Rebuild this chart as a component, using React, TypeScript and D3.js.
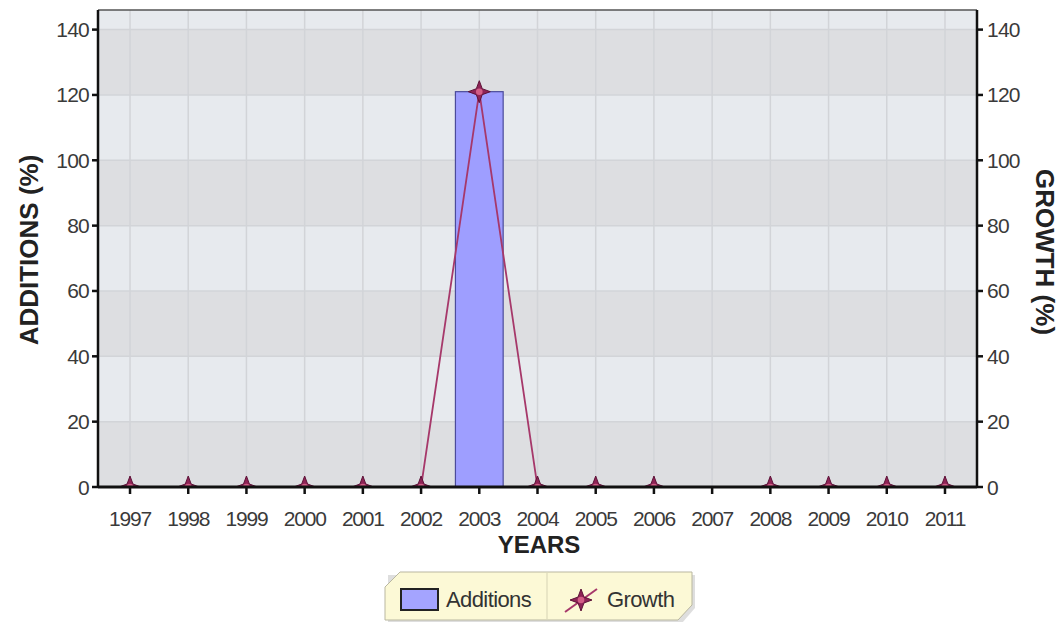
import * as d3 from "d3";

const years = ["1997", "1998", "1999", "2000", "2001", "2002", "2003", "2004", "2005", "2006", "2007", "2008", "2009", "2010", "2011"];
const additions = [0, 0, 0, 0, 0, 0, 121, 0, 0, 0, 0, 0, 0, 0, 0];
const growth: (number | null)[] = [0, 0, 0, 0, 0, 0, 121, 0, 0, 0, null, 0, 0, 0, 0];
const yTicks = [0, 20, 40, 60, 80, 100, 120, 140];

const W = 1060;
const H = 622;
const PLOT = { left: 98, right: 977, top: 10, bottom: 487 };
const FONT = "'Liberation Sans', Arial, sans-serif";

// four pointed star used for the growth points
const starPath = (r: number, ri: number) => {
  const pts: [number, number][] = [];
  for (let i = 0; i < 8; i++) {
    const a = (Math.PI / 4) * i - Math.PI / 2;
    const rr = i % 2 === 0 ? r : ri;
    pts.push([Math.cos(a) * rr, Math.sin(a) * rr]);
  }
  return "M" + pts.map((p) => p.join(",")).join("L") + "Z";
};

const Star = ({ x, y, r = 11 }: { x: number; y: number; r?: number }) => (
  <g transform={`translate(${x},${y})`}>
    <path d={starPath(r, r * 0.38)} fill="#8e2456" stroke="#5e1238" strokeWidth={1} />
    <circle r={r * 0.3} fill="#d35d86" />
  </g>
);

export default function App() {
  const x = d3.scalePoint<string>().domain(years).range([PLOT.left, PLOT.right]).padding(0.55);
  const y = d3.scaleLinear().domain([0, 146]).range([PLOT.bottom, PLOT.top]);
  const step = x.step();
  const barW = step * 0.82;

  // alternating horizontal bands
  const bandEdges = [...yTicks, 146];
  const bands = bandEdges.slice(0, -1).map((v, i) => ({
    y0: v,
    y1: bandEdges[i + 1],
    dark: i % 2 === 0,
  }));

  const line = d3
    .line<number | null>()
    .defined((d) => d != null)
    .x((_, i) => x(years[i]) as number)
    .y((d) => y(d as number));

  return (
    <svg width={W} height={H} style={{ position: "absolute", left: 0, top: 0, background: "#fff" }}>
      <defs>
        <clipPath id="plotClip">
          <rect x={PLOT.left} y={0} width={PLOT.right - PLOT.left} height={PLOT.bottom} />
        </clipPath>
      </defs>
      {/* plot background */}
      {bands.map((b, i) => (
        <rect
          key={i}
          x={PLOT.left}
          width={PLOT.right - PLOT.left}
          y={y(b.y1)}
          height={y(b.y0) - y(b.y1)}
          fill={b.dark ? "#dddee1" : "#e7eaee"}
        />
      ))}
      {/* grid */}
      {yTicks.map((t) => (
        <line key={t} x1={PLOT.left} x2={PLOT.right} y1={y(t)} y2={y(t)} stroke="#d2d4d8" strokeWidth={1.5} />
      ))}
      {years.map((yr) => (
        <line key={yr} x1={x(yr)} x2={x(yr)} y1={PLOT.top} y2={PLOT.bottom} stroke="#d2d4d8" strokeWidth={1.5} />
      ))}
      {/* border */}
      <line x1={PLOT.left} x2={PLOT.right} y1={PLOT.top} y2={PLOT.top} stroke="#555" strokeWidth={1.5} />

      {/* bars */}
      {additions.map((v, i) =>
        v > 0 ? (
          <rect
            key={i}
            x={(x(years[i]) as number) - barW / 2}
            width={barW}
            y={y(v)}
            height={y(0) - y(v)}
            fill="#9e9eff"
            stroke="#4b4b9a"
            strokeWidth={1.2}
          />
        ) : null
      )}

      {/* growth line and points */}
      <g clipPath="url(#plotClip)">
        <path d={line(growth) ?? ""} fill="none" stroke="#a6386a" strokeWidth={1.8} />
        {growth.map((v, i) => (v == null ? null : <Star key={i} x={x(years[i]) as number} y={y(v)} />))}
      </g>

      {/* axes */}
      <line x1={PLOT.left} x2={PLOT.left} y1={PLOT.top} y2={PLOT.bottom + 1} stroke="#111" strokeWidth={2.5} />
      <line x1={PLOT.right} x2={PLOT.right} y1={PLOT.top} y2={PLOT.bottom + 1} stroke="#111" strokeWidth={2.5} />
      <line x1={PLOT.left} x2={PLOT.right} y1={PLOT.bottom} y2={PLOT.bottom} stroke="#111" strokeWidth={3} />

      {yTicks.map((t) => (
        <g key={t} fontFamily={FONT} fontSize={21} fill="#3a3a3a">
          <line x1={PLOT.left - 6} x2={PLOT.left} y1={y(t)} y2={y(t)} stroke="#111" strokeWidth={2.5} />
          <line x1={PLOT.right} x2={PLOT.right + 6} y1={y(t)} y2={y(t)} stroke="#111" strokeWidth={2.5} />
          <text x={PLOT.left - 9} y={y(t)} textAnchor="end" dominantBaseline="central" letterSpacing={-0.8}>
            {t}
          </text>
          <text x={PLOT.right + 10} y={y(t)} textAnchor="start" dominantBaseline="central" letterSpacing={-0.8}>
            {t}
          </text>
        </g>
      ))}
      {years.map((yr) => (
        <g key={yr}>
          <line x1={x(yr)} x2={x(yr)} y1={PLOT.bottom} y2={PLOT.bottom + 7} stroke="#111" strokeWidth={2.5} />
          <text
            x={x(yr)}
            y={PLOT.bottom + 39}
            textAnchor="middle"
            fontFamily={FONT}
            fontSize={21}
            fill="#3a3a3a"
            letterSpacing={-1.2}
          >
            {yr}
          </text>
        </g>
      ))}

      {/* titles */}
      <text
        transform={`translate(38,250) rotate(-90)`}
        textAnchor="middle"
        fontFamily={FONT}
        fontWeight="bold"
        fontSize={26}
        fill="#222"
      >
        ADDITIONS (%)
      </text>
      <text
        transform={`translate(1036,252) rotate(90)`}
        textAnchor="middle"
        fontFamily={FONT}
        fontWeight="bold"
        fontSize={26}
        fill="#222"
      >
        GROWTH (%)
      </text>
      <text x={539} y={553} textAnchor="middle" fontFamily={FONT} fontWeight="bold" fontSize={24} fill="#222">
        YEARS
      </text>

      {/* legend */}
      <g>
        <polygon points="388,575 695,575 695,608 682,623 388,623" fill="#c8c8c8" opacity={0.6} />
        <polygon points="400,572 692,572 692,605 678,620 385,620 385,587" fill="#fcf9d6" stroke="#b9b7a0" strokeWidth={1} />
        <line x1={547} x2={547} y1={573} y2={619} stroke="#d6d3b4" strokeWidth={1} />
        <rect x={401} y={589} width={37} height={21} fill="#a4a4ff" stroke="#222" strokeWidth={2} />
        <text x={446} y={607} fontFamily={FONT} fontSize={22} fill="#333" letterSpacing={-0.6}>
          Additions
        </text>
        <line x1={565} x2={597} y1={612} y2={589} stroke="#a6386a" strokeWidth={2} />
        <Star x={581} y={600} r={11} />
        <text x={607} y={607} fontFamily={FONT} fontSize={22} fill="#333" letterSpacing={-0.6}>
          Growth
        </text>
      </g>
    </svg>
  );
}
